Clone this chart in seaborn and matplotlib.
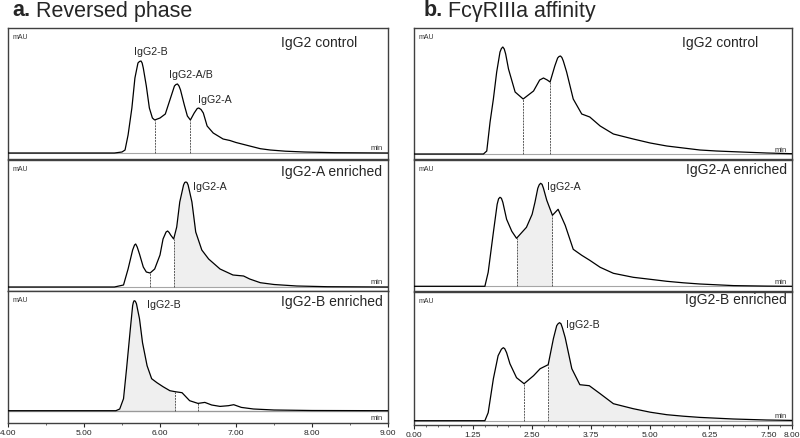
import matplotlib
matplotlib.use("Agg")
import matplotlib.pyplot as plt
import seaborn as sns
import numpy as np
from matplotlib.ticker import FixedLocator, MultipleLocator, FormatStrFormatter

sns.set_style("white")
plt.rcParams["font.family"] = ["Liberation Sans", "DejaVu Sans"]

W, H = 800, 439

# ---------------- data (mAU, arbitrary) ----------------
# a. reversed phase (time in min)
rp_ctrl_t = [4.00, 5.40, 5.50, 5.54, 5.58, 5.63, 5.67, 5.71, 5.73, 5.75, 5.765, 5.78, 5.82, 5.86, 5.90,
             5.93, 6.00, 6.07, 6.13, 6.19, 6.21, 6.23, 6.25, 6.27, 6.32, 6.36, 6.40, 6.45, 6.49, 6.51,
             6.54, 6.57, 6.62, 6.70, 6.83, 6.92, 7.00, 7.18, 7.32, 7.45, 7.65, 7.90, 8.30, 9.00]
rp_ctrl_y = [0, 0, 1, 3, 18, 45, 75, 90, 91.5, 92, 90, 85, 67, 45, 35,
             33, 35, 39, 53, 67, 68.5, 69, 67, 63, 48, 37, 33, 40, 44.5, 45,
             43.5, 40, 27, 20, 14, 12.5, 10.5, 7, 4.3, 3, 1.8, 1, 0.3, 0]
rp_ctrl_cuts = [5.93, 6.40]

rp_a_t = [4.00, 5.40, 5.52, 5.58, 5.64, 5.665, 5.68, 5.70, 5.73, 5.78, 5.82, 5.87, 5.93, 6.00, 6.04,
          6.08, 6.10, 6.12, 6.14, 6.18, 6.22, 6.26, 6.31, 6.325, 6.34, 6.355, 6.37, 6.42, 6.47, 6.55,
          6.64, 6.79, 6.96, 7.10, 7.18, 7.32, 7.50, 7.80, 8.20, 9.00]
rp_a_y = [0, 0, 2, 18, 37, 42, 43, 40, 33, 20, 15, 14, 18, 32, 48,
          55, 56, 54.5, 52, 48, 60, 85, 102, 104.5, 105, 104.5, 102, 85, 55, 37,
          28, 18, 12, 11, 8, 4.3, 2.5, 1, 0.3, 0]
rp_a_cuts = [5.87, 6.18]

rp_b_t = [4.00, 5.42, 5.47, 5.52, 5.56, 5.61, 5.64, 5.65, 5.66, 5.675, 5.69, 5.73, 5.77, 5.83, 5.89,
          5.96, 6.04, 6.13, 6.20, 6.29, 6.39, 6.50, 6.59, 6.68, 6.79, 6.90, 6.97, 7.07, 7.23, 7.50,
          8.00, 9.00]
rp_b_y = [0, 0, 1.7, 12, 42, 82, 105, 108.5, 110, 109.5, 107, 92, 68, 45, 32,
          28, 24, 20, 19, 18, 10, 7.3, 8.3, 5.7, 4.3, 5, 6, 3.3, 1.7, 0.7,
          0.2, 0]
rp_b_cuts = [6.20, 6.50]

# b. FcgRIIIa affinity (time in min)
fc_ctrl_t = [0.00, 1.47, 1.54, 1.61, 1.68, 1.75, 1.82, 1.85, 1.88, 1.91, 1.94, 2.00, 2.14, 2.31, 2.53,
             2.66, 2.74, 2.82, 2.88, 2.98, 3.04, 3.07, 3.10, 3.13, 3.16, 3.23, 3.37, 3.55, 3.72, 3.94,
             4.22, 4.64, 5.00, 5.35, 5.70, 6.05, 6.40, 6.76, 7.46, 8.00]
fc_ctrl_y = [0, 0, 3, 32, 55, 82, 102, 105.5, 107, 105, 100, 85, 62, 55, 63,
             74, 76, 74, 72, 88, 96, 97.5, 98, 96.5, 93, 82, 55, 40, 37, 28,
             20, 15, 11, 8, 6, 4, 3, 2.3, 1, 0.3]
fc_ctrl_cuts = [2.31, 2.88]

fc_a_t = [0.00, 1.50, 1.57, 1.68, 1.76, 1.79, 1.82, 1.85, 1.88, 1.96, 2.07, 2.17, 2.38, 2.50, 2.56,
          2.62, 2.65, 2.68, 2.71, 2.74, 2.81, 2.93, 3.05, 3.20, 3.37, 3.55, 3.72, 3.94, 4.22, 4.64,
          5.00, 5.35, 5.70, 6.05, 6.76, 7.46, 8.00]
fc_a_y = [0, 0, 14, 54, 82, 87.5, 89, 88, 84, 67, 55, 48, 59, 72, 84,
          98, 101.5, 103, 102, 98, 86, 71, 77, 61, 37, 31, 26, 19, 13, 9,
          7, 5, 3.5, 2.3, 0.7, 0.2, 0]
fc_a_cuts = [2.17, 2.93]

fc_b_t = [0.00, 1.50, 1.57, 1.68, 1.78, 1.85, 1.89, 1.92, 1.96, 2.03, 2.17, 2.33, 2.53, 2.67, 2.84,
          2.95, 3.02, 3.05, 3.08, 3.11, 3.14, 3.20, 3.34, 3.51, 3.71, 3.94, 4.22, 4.64, 5.00, 5.35,
          5.70, 6.05, 6.76, 7.46, 8.00]
fc_b_y = [0, 0, 8, 42, 65, 71.5, 73, 72, 68, 57, 43, 37, 45, 52, 56,
          82, 95, 97, 98, 97, 93, 83, 52, 36, 35, 27, 17, 12, 8.5, 6,
          4.5, 3.3, 1.7, 0.7, 0.3]
fc_b_cuts = [2.33, 2.84]

sample_names = ["IgG2 control", "IgG2-A enriched", "IgG2-B enriched"]
rp_ticks = [4.00, 5.00, 6.00, 7.00, 8.00, 9.00]
fc_ticks = [0.00, 1.25, 2.50, 3.75, 5.00, 6.25, 7.50, 8.00]


def box(x0, y0, x1, y1):
    return [x0 / W, 1 - y1 / H, (x1 - x0) / W, (y1 - y0) / H]


fig = plt.figure(figsize=(W / 100, H / 100), dpi=100)

FILL = "#efefef"


def draw(ax, t, y, cuts, fill=None, xlim=(0, 1), ylim=(-5, 125), min_below=False):
    t = np.asarray(t)
    y = np.asarray(y)
    ax.axhline(0, color="0.65", lw=0.8, zorder=1)
    if fill is not None:
        m = (t >= fill[0]) & (t <= fill[1])
        ax.fill_between(t[m], 0, y[m], color=FILL, lw=0, zorder=0)
    sns.lineplot(x=t, y=y, ax=ax, color="k", lw=0.9, zorder=3)
    for c in cuts:
        ax.vlines(c, 0, np.interp(c, t, y), color="0.35", lw=0.7,
                  linestyles=(0, (2, 1)), zorder=2)
    ax.set_xlim(*xlim)
    ax.set_ylim(*ylim)
    ax.set_xlabel("")
    ax.set_ylabel("")
    ax.set_yticks([])
    ax.set_xticks([])
    for s in ax.spines.values():
        s.set_color("0.25")
        s.set_linewidth(1.0)
    ax.text(0.012, 0.965, "mAU", transform=ax.transAxes, fontsize=5, va="top", ha="left", color="0.2")
    if min_below:
        ax.text(0.985, -7, "min", transform=ax.get_yaxis_transform(), fontsize=5.5,
                va="center", ha="right", color="0.2")
        ax.axhline(0, color="0.6", lw=0.9, zorder=1)
    else:
        ax.text(0.985, 1.5, "min", transform=ax.get_yaxis_transform(), fontsize=5.5,
                va="bottom", ha="right", color="0.2")


# ---------------- a. reversed phase ----------------
a1 = fig.add_axes(box(8, 29, 388, 160))
a2 = fig.add_axes(box(8, 161, 388, 292))
a3 = fig.add_axes(box(8, 292, 388, 424))
draw(a1, rp_ctrl_t, rp_ctrl_y, rp_ctrl_cuts, xlim=(4, 9), ylim=(-6, 125))
draw(a2, rp_a_t, rp_a_y, rp_a_cuts, fill=(6.18, 9.0), xlim=(4, 9), ylim=(-4, 127))
draw(a3, rp_b_t, rp_b_y, rp_b_cuts, fill=(5.40, 6.20), xlim=(4, 9), ylim=(-12.3, 119.7), min_below=True)

pk = dict(fontsize=7.7, va="center")
a1.text(5.88, 102, "IgG2-B", ha="center", **pk)
a1.text(6.41, 79, "IgG2-A/B", ha="center", **pk)
a1.text(6.72, 54, "IgG2-A", ha="center", **pk)
a2.text(6.43, 101, "IgG2-A", ha="left", **pk)
a3.text(5.83, 107, "IgG2-B", ha="left", **pk)

a1.text(0.918, 0.893, sample_names[0], transform=a1.transAxes, fontsize=10, ha="right", va="center")
a2.text(0.984, 0.916, sample_names[1], transform=a2.transAxes, fontsize=10, ha="right", va="center")
a3.text(0.987, 0.924, sample_names[2], transform=a3.transAxes, fontsize=10, ha="right", va="center")

# ---------------- b. FcgRIIIa affinity ----------------
b1 = fig.add_axes(box(414, 29, 792, 160))
b2 = fig.add_axes(box(414, 161, 792, 292))
b3 = fig.add_axes(box(414, 293, 792, 426))
draw(b1, fc_ctrl_t, fc_ctrl_y, fc_ctrl_cuts, xlim=(0, 8), ylim=(-5, 126))
draw(b2, fc_a_t, fc_a_y, fc_a_cuts, fill=(2.17, 2.93), xlim=(0, 8), ylim=(-4.7, 126.3))
draw(b3, fc_b_t, fc_b_y, fc_b_cuts, fill=(2.84, 8.0), xlim=(0, 8), ylim=(-4.3, 128.7))

b2.text(2.81, 100, "IgG2-A", ha="left", **pk)
b3.text(3.22, 97, "IgG2-B", ha="left", **pk)

b1.text(0.910, 0.893, sample_names[0], transform=b1.transAxes, fontsize=10, ha="right", va="center")
b2.text(0.987, 0.931, sample_names[1], transform=b2.transAxes, fontsize=10, ha="right", va="center")
b3.text(0.987, 0.947, sample_names[2], transform=b3.transAxes, fontsize=10, ha="right", va="center")

# ---------------- x axes on the bottom panels ----------------
for ax, ticks, minor in [(a3, rp_ticks, 0.5), (b3, fc_ticks, 0.25)]:
    ax.xaxis.set_major_locator(FixedLocator(ticks))
    ax.xaxis.set_minor_locator(MultipleLocator(minor))
    ax.xaxis.set_major_formatter(FormatStrFormatter("%.2f"))
    ax.tick_params(axis="x", which="major", bottom=True, direction="out", length=3, width=0.8,
                   pad=1.5, labelsize=6, colors="0.15")
    ax.tick_params(axis="x", which="minor", bottom=True, direction="out", length=1.5, width=0.6,
                   colors="0.3")

# ---------------- panel titles ----------------
renderer = fig.canvas.get_renderer()
for x0, tag, title in [(12.7, "a.", "Reversed phase"), (423.3, "b.", "FcγRIIIa affinity")]:
    t1 = fig.text(x0 / W, 1 - 16.5 / H, tag, fontsize=15.5, weight="bold", va="baseline", ha="left")
    ext = t1.get_window_extent(renderer)
    fig.text(ext.x1 / W + 5.5 / W, 1 - 16.5 / H, title, fontsize=15.5, va="baseline", ha="left")

fig.savefig("out.png", dpi=100, facecolor="w")
